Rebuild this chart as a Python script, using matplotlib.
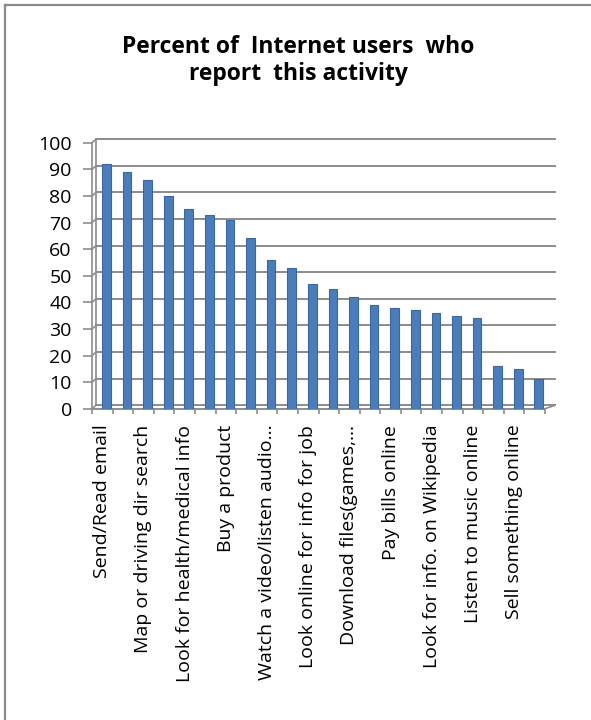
import matplotlib
matplotlib.use('Agg')
import matplotlib.pyplot as plt
from matplotlib.lines import Line2D

plt.rcParams['font.family'] = ['Open Sans', 'DejaVu Sans']

# values, one per bar (22 bars)
values = [92, 89, 86, 80, 75, 73, 71, 64, 56, 53, 47,
          45, 42, 39, 38, 37, 36, 35, 34, 16, 15, 11]
# only every other category is labelled in the original
shown_labels = ['Send/Read email', 'Map or driving dir search',
                'Look for health/medical info', 'Buy a product',
                'Watch a video/listen audio\u2026', 'Look online for info for job',
                'Download files(games,\u2026', 'Pay bills online',
                'Look for info. on Wikipedia', 'Listen to music online',
                'Sell something online']
yticks = [0, 10, 20, 30, 40, 50, 60, 70, 80, 90, 100]
title1 = 'Percent of  Internet users  who'
title2 = 'report  this activity'

W, H = 591, 720
fig = plt.figure(figsize=(W / 100, H / 100), dpi=100)
fig.patch.set_facecolor('white')

# chart border (left and top visible in the crop)
fig.add_artist(Line2D([4.7 / W, 4.7 / W], [0, 1 - 5 / H], color='#8a8a8a', lw=1.6))
fig.add_artist(Line2D([4.7 / W, 1], [1 - 5 / H, 1 - 5 / H], color='#8a8a8a', lw=1.6))

fig.text(298 / W, 1 - 52.7 / H, title1, ha='center', va='baseline',
         fontsize=16.5, fontweight='bold')
fig.text(298 / W, 1 - 80 / H, title2, ha='center', va='baseline',
         fontsize=16.5, fontweight='bold')

ax = fig.add_axes([92 / W, 1 - 408.7 / H, 453 / W, 266 / H])
n = len(values)
ax.set_xlim(-0.5, n - 0.5)
ax.set_ylim(0, 100)

grid_c = '#8c8c8c'
dx_l, dx_r, dy = 0.2, 0.49, 1.3   # fake 3D depth of the back wall
for v in yticks:
    ax.plot([-0.5 + dx_l, n - 0.5 + dx_r], [v + dy, v + dy], color=grid_c,
            lw=1.4, clip_on=False, zorder=1)
    ax.plot([-0.5, -0.5 + dx_l], [v, v + dy], color=grid_c, lw=1.2,
            clip_on=False, zorder=1)
# back wall edge and floor
ax.plot([-0.5 + dx_l, -0.5 + dx_l], [dy, 100 + dy], color=grid_c, lw=1.2,
        clip_on=False, zorder=1)
ax.plot([-0.5, n - 0.5], [0, 0], color=grid_c, lw=1.4, clip_on=False, zorder=1)
ax.plot([n - 0.5, n - 0.5 + dx_r], [0, dy], color=grid_c, lw=1.2,
        clip_on=False, zorder=1)

xs = [i + 0.2 for i in range(n)]
ax.bar(xs, values, width=0.42, color='#4a7ebb', edgecolor='#3b679c',
       linewidth=0.8, zorder=3)

for s in ['top', 'right', 'bottom']:
    ax.spines[s].set_visible(False)
ax.spines['left'].set_color(grid_c)
ax.spines['left'].set_linewidth(1.2)

ax.set_yticks(yticks)
ax.set_yticklabels([str(t) for t in yticks])
ax.tick_params(axis='y', direction='out', length=6.5, width=1.2, color=grid_c,
               pad=8, labelsize=14)

ax.set_xticks(list(range(0, n, 2)))
ax.set_xticklabels(shown_labels, rotation=90, ha='center', va='top')
ax.set_xticks([i - 0.5 for i in range(n + 1)], minor=True)
ax.tick_params(axis='x', which='major', length=0, pad=11.5, labelsize=14)
ax.tick_params(axis='x', which='minor', direction='out', length=3.6, width=1.2,
               color=grid_c)

fig.savefig('out.png', dpi=100)
